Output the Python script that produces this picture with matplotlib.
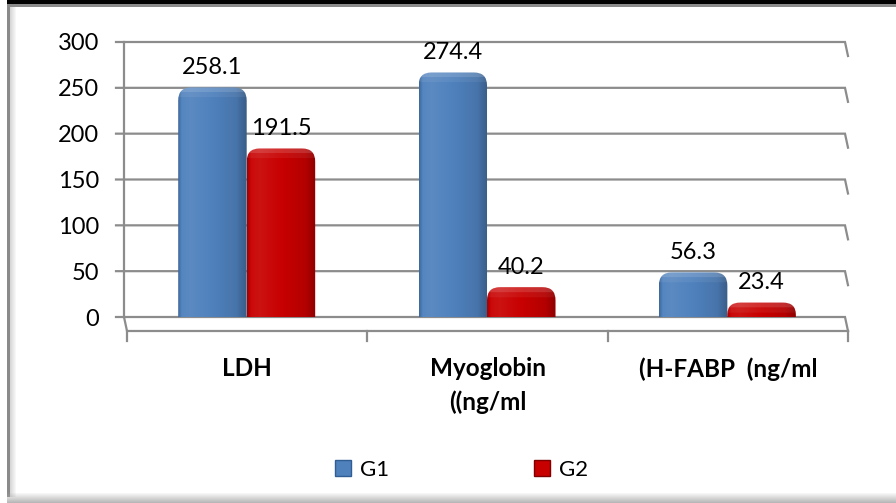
import numpy as np
import matplotlib.pyplot as plt
from matplotlib.path import Path
from matplotlib.patches import PathPatch, Rectangle
from matplotlib.lines import Line2D
from matplotlib.transforms import offset_copy
import matplotlib.colors as mcolors

# data
categories = ['LDH', 'Myoglobin\n((ng/ml', '(H-FABP  (ng/ml']
g1 = [258.1, 274.4, 56.3]
g2 = [191.5, 40.2, 23.4]
series_names = ['G1', 'G2']
yticks = [0, 50, 100, 150, 200, 250, 300]

blue = '#4F81BD'
red = '#C80000'
grid_c = '#8c8c8c'

plt.rcParams['font.family'] = ['Lato', 'DejaVu Sans']

W, H = 896, 503
fig = plt.figure(figsize=(W / 100, H / 100), dpi=100)

# frame decoration (pixel coords)
bg = fig.add_axes([0, 0, 1, 1], zorder=-5)
bg.set_xlim(0, W)
bg.set_ylim(H, 0)
bg.axis('off')
bg.add_patch(Rectangle((7, 0), W, 4, color='black', lw=0))
bg.add_patch(Rectangle((7, 4), W, 3, color='#8a8a8a', lw=0))
bg.add_patch(Rectangle((7, 4), 3, 493, color='#8a8a8a', lw=0))
for i in range(6):
    bg.add_patch(Rectangle((10 + i, 7), 1, 490, color='#b0b0b0', alpha=0.5 - i * 0.08, lw=0))
for i in range(10):
    bg.add_patch(Rectangle((7, 493 + i), W, 1, color='#a8a8a8', alpha=0.1 + i * 0.08, lw=0))

ax = fig.add_axes([127 / W, 1 - 317 / H, (848 - 127) / W, (317 - 42) / H])
ax.set_xlim(-0.5, 2.5)
ax.set_ylim(0, 300)
for s in ax.spines.values():
    s.set_visible(False)
ax.set_facecolor('none')

p0 = ax.transData.transform((0, 0))
p1 = ax.transData.transform((1, 1))
kx, ky = p1 - p0  # pixels per data unit

# back wall: gridlines, left axis, ticks
bx = -0.5 - 3 / kx
fy = -14 / ky
for y in yticks:
    ax.plot([bx - 8 / kx, 2.5 - 3 / kx, 2.5], [y, y, y + fy], color=grid_c, lw=1.6,
            clip_on=False, zorder=1, solid_joinstyle='miter')
ax.plot([bx, bx], [0, 300], color=grid_c, lw=1.6, clip_on=False, zorder=1)
# floor
ax.plot([bx, -0.5, 2.5], [0, fy, fy], color=grid_c, lw=1.6, clip_on=False, zorder=1)
for xc in [-0.5, 0.5, 1.5, 2.5]:
    ax.plot([xc, xc], [fy, fy - 10 / ky], color=grid_c, lw=1.6, clip_on=False, zorder=1)

ax.set_yticks(yticks)
ax.set_yticklabels([str(v) for v in yticks])
ax.tick_params(axis='y', length=0, pad=20, labelsize=17)
ax.set_xticks(range(len(categories)))
ax.set_xticklabels(categories, fontweight='bold')
ax.tick_params(axis='x', length=0, pad=29, labelsize=17.5)
ax.get_xticklabels()[1].set_linespacing(1.5)
ax.get_xticklabels()[0].set_x(0.02)


def shade(c, f):
    r = np.array(mcolors.to_rgb(c))
    if f >= 1:
        return r + (1 - r) * (f - 1)
    return r * f


def bar_img(color, hpx, wpx):
    ny, nx = max(int(hpx), 2), max(int(wpx), 2)
    t = np.linspace(0, 1, nx)
    prof = np.interp(t, [0, 0.05, 0.18, 0.5, 0.85, 1], [0.82, 1.04, 1.07, 1.0, 0.9, 0.72])
    img = np.zeros((ny, nx, 3))
    for j in range(nx):
        img[:, j] = shade(color, prof[j])
    d = np.arange(ny)[:, None]
    top = np.where(d < 5, 0.18, np.where(d < 10, 0.06, 0.0))
    img = img + (1 - img) * top[..., None]
    return np.clip(img, 0, 1)


def rounded(x0, w, h, rt, rb):
    rxt, ryt = rt / kx, min(rt / ky, h * 0.55)
    rxb, ryb = rb / kx, rb / ky
    x1 = x0 + w
    verts = [(x0, ryb), (x0, h - ryt), (x0, h), (x0 + rxt, h), (x1 - rxt, h), (x1, h),
             (x1, h - ryt), (x1, ryb), (x1, 0), (x1 - rxb, 0), (x0 + rxb, 0), (x0, 0), (x0, ryb)]
    codes = [Path.MOVETO, Path.LINETO, Path.CURVE3, Path.CURVE3, Path.LINETO, Path.CURVE3,
             Path.CURVE3, Path.LINETO, Path.CURVE3, Path.CURVE3, Path.LINETO, Path.CURVE3, Path.CURVE3]
    return Path(verts, codes)


bar_tr = offset_copy(ax.transData, fig=fig, x=0, y=-7, units='dots')
x = np.arange(len(categories))
w = 0.285
for vals, off, col in [(g1, -0.1445, blue), (g2, 0.1405, red)]:
    rects = ax.bar(x + off, vals, w, color=col, transform=bar_tr)
    for r, v in zip(rects, vals):
        r.set_visible(False)
        x0, bw, bh = r.get_x(), r.get_width(), r.get_height()
        patch = PathPatch(rounded(x0, bw, bh, 13, 4), facecolor='none', edgecolor='none',
                          transform=bar_tr, zorder=3)
        ax.add_patch(patch)
        im = ax.imshow(bar_img(col, bh * ky, bw * kx), extent=(x0, x0 + bw, 0, bh),
                       transform=bar_tr, aspect='auto', interpolation='bilinear', zorder=3)
        im.set_clip_path(patch)
        ax.annotate(f'{v}', (x0 + bw / 2, v), xytext=(0, 13), textcoords='offset pixels',
                    ha='center', va='center', fontsize=17, zorder=4)

ax.set_xlim(-0.5, 2.5)
ax.set_ylim(0, 300)

handles = [Line2D([], [], marker='s', ls='none', markersize=11.5, markerfacecolor=blue,
                  markeredgecolor='#2f5d94'),
           Line2D([], [], marker='s', ls='none', markersize=11.5, markerfacecolor=red,
                  markeredgecolor='#800000')]
fig.legend(handles, series_names, loc='center', bbox_to_anchor=(460 / W, 1 - 470 / H), ncol=2,
           frameon=False, fontsize=16, handlelength=1.0, handletextpad=0.25, columnspacing=6.4)

fig.savefig('out.png', dpi=100)
